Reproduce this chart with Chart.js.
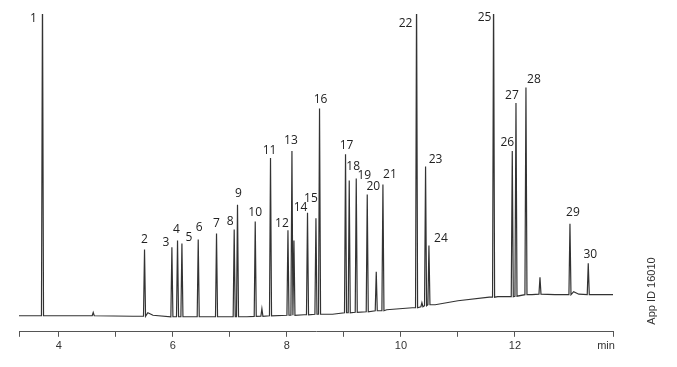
<!DOCTYPE html>
<html><head><meta charset="utf-8">
<script src="https://cdn.jsdelivr.net/npm/chart.js@4"></script>
<style>html,body{margin:0;padding:0;background:#fff}#wrap{width:677px;height:367px;position:relative}</style>
</head><body><div id="wrap"><canvas id="c" width="677" height="367"></canvas></div>
<script>
// Labeled peaks (retention time in min, apex signal, local baseline signal)
const peakLabels = ['1','2','3','4','5','6','7','8','9','10','11','12','13','14','15','16','17','18','19','20','21','22','23','24','25','26','27','28','29','30'];
const peakTimes = [3.712, 5.502, 5.982, 6.081, 6.158, 6.444, 6.765, 7.075, 7.133, 7.444, 7.712, 8.018, 8.088, 8.361, 8.509, 8.572, 9.028, 9.093, 9.216, 9.409, 9.684, 10.274, 10.432, 10.491, 11.625, 11.953, 12.018, 12.193, 12.965, 13.286];
const peakHeights = [340, 82, 84.3, 91, 88, 92, 98, 102, 126.7, 110, 173.3, 101.3, 180.3, 118.7, 113.3, 222.7, 177, 151, 153, 137, 147, 340, 165, 86, 340, 180.3, 228.3, 243.7, 107.7, 68.3];
const peakBases = [16, 15.5, 15, 15, 15, 15, 15, 15, 15, 15.3, 16, 16.5, 16.5, 17, 17.5, 17.5, 19, 19, 19.5, 20, 21, 24, 26, 27, 34.5, 35, 35.5, 37, 37, 37];
// Unlabeled minor peaks
const minorTimes = [4.602, 7.561, 8.123, 9.567, 10.368, 12.439];
const minorHeights = [19.3, 23, 91, 60, 29, 54.3];
const minorBases = [16, 15.5, 16.5, 21, 25, 37.5];
// Baseline (drift) points
const baseTimes = [3.3, 4.3, 5.3, 5.56, 5.65, 6.3, 7.3, 8.3, 8.8, 9.75, 10.2, 10.6, 11.0, 11.55, 11.7, 12.3, 12.7, 13.03, 13.12, 13.72];
const baseValues = [16, 16, 15.5, 19, 16.5, 15, 15, 17, 17.5, 22, 24, 27, 31, 34.5, 35, 37, 37, 40, 37.5, 37];
// x-axis tick labels
const tickLabels = ['4','6','8','10','12'];

// label placement offsets (px) relative to peak apex
const labelOffsets = [[-9,5],[0,-10],[-6,-5],[-1,-11],[7,-6],[1,-12],[0,-10],[-4,-8],[1,-11],[0,-9],[-1,-7],[-6,-7],[-1,-10],[-7,-5],[-5,-20],[1,-9],[1,-9],[4,-14],[8,-3],[6,-8],[7,-10],[-11,10],[10,-7],[12,-7],[-9,4],[-5,-8],[-4,-7],[8,-8],[3,-11],[2,-9]];

const hw = 0.018;
const pts = [];
peakTimes.forEach((t,i)=>{ pts.push({x:t-hw,y:peakBases[i]},{x:t,y:peakHeights[i]},{x:t+hw,y:peakBases[i]}); });
minorTimes.forEach((t,i)=>{ pts.push({x:t-hw,y:minorBases[i]},{x:t,y:minorHeights[i]},{x:t+hw,y:minorBases[i]}); });
baseTimes.forEach((t,i)=>pts.push({x:t,y:baseValues[i]}));
pts.sort((a,b)=>a.x-b.x);

const labelPlugin = {
  id:'peakLabels',
  afterDraw(chart){
    const {ctx, chartArea, scales:{x,y}} = chart;
    ctx.save();
    ctx.font = '12px "Open Sans"';
    ctx.fillStyle = '#222';
    ctx.textAlign = 'center'; ctx.textBaseline = 'middle';
    peakTimes.forEach((t,i)=>{
      const px = x.getPixelForValue(t);
      const py = Math.max(y.getPixelForValue(peakHeights[i]), chartArea.top);
      ctx.fillText(peakLabels[i], px+labelOffsets[i][0], py+labelOffsets[i][1]);
    });
    ctx.font = '11px "Liberation Sans"';
    ctx.fillStyle = '#333';
    ctx.fillText('min', x.right-7, chartArea.bottom+14);
    ctx.translate(chart.width-25, 291);
    ctx.rotate(-Math.PI/2);
    ctx.fillText('App ID 16010', 0, 0);
    ctx.restore();
  }
};

new Chart(document.getElementById('c'), {
  type:'line',
  data:{datasets:[{data:pts, borderColor:'#333', borderWidth:1.2, pointRadius:0, tension:0, clip:0, fill:false}]},
  options:{
    responsive:false, animation:false,
    layout:{padding:{left:19,right:64,top:14,bottom:11}},
    plugins:{legend:{display:false}, tooltip:{enabled:false}},
    scales:{
      x:{type:'linear', min:3.3, max:13.72,
        ticks:{stepSize:1, autoSkip:false, maxRotation:0, padding:3, color:'#333', font:{family:'Liberation Sans', size:11},
          callback:(v)=> tickLabels.includes(String(v)) ? String(v) : ''},
        grid:{drawOnChartArea:false, drawTicks:true, tickLength:5, color:'#555'},
        border:{color:'#555', width:1}},
      y:{display:false, min:0, max:317}
    }
  },
  plugins:[labelPlugin]
});
</script></body></html>
